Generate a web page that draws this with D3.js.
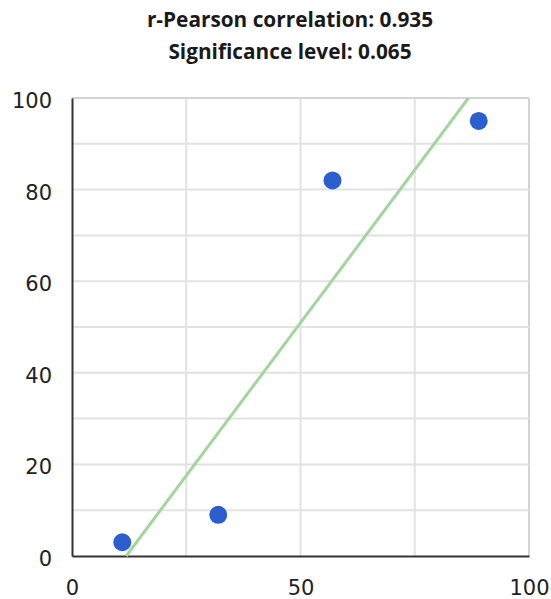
<!DOCTYPE html>
<html>
<head>
<meta charset="utf-8">
<script src="https://cdn.jsdelivr.net/npm/d3@7"></script>
<style>
  body { margin: 0; background: #fff; }
</style>
</head>
<body>
<div id="vis"></div>
<script>
var w = 551, h = 599; // size of the svg

// the four observations
var xValues = [11, 32, 57, 89];
var yValues = [3, 9, 82, 95];

// tick labels shown on the axes
var xTicks = [0, 50, 100];
var yTicks = [0, 20, 40, 60, 80, 100];
var xGrid = [25, 50, 75, 100];
var yGrid = [10, 20, 30, 40, 50, 60, 70, 80, 90, 100];

var titleLines = ["r-Pearson correlation: 0.935", "Significance level: 0.065"];

var points = xValues.map(function(x, i){
            return {x: x, y: yValues[i]};
        });

var xScale = d3.scaleLinear().domain([0, 100]).range([72, 529]);
var yScale = d3.scaleLinear().domain([0, 100]).range([556, 98]);

var svg = d3.select("#vis").append("svg")
            .attr("width", w)
            .attr("height", h);

// title, two lines
svg.selectAll("text.title")
    .data(titleLines)
    .enter()
    .append("text")
    .attr("class", "title")
    .attr("x", 290)
    .attr("y", function(d, i){ return 27 + i * 32; })
    .attr("text-anchor", "middle")
    .style("font-family", "'Open Sans', Lato, sans-serif")
    .style("font-weight", "bold")
    .style("font-size", "20.8px")
    .style("fill", "#1a1a1a")
    .text(function(d){ return d; });

// gridlines
svg.selectAll("line.vgrid")
    .data(xGrid)
    .enter()
    .append("line")
    .attr("x1", function(d){ return xScale(d); })
    .attr("x2", function(d){ return xScale(d); })
    .attr("y1", yScale(0))
    .attr("y2", yScale(100))
    .attr("stroke", function(d){ return d == 100 ? "#d4d4d4" : "#e2e2e2"; })
    .attr("stroke-width", 2);

svg.selectAll("line.hgrid")
    .data(yGrid)
    .enter()
    .append("line")
    .attr("x1", xScale(0))
    .attr("x2", xScale(100))
    .attr("y1", function(d){ return yScale(d); })
    .attr("y2", function(d){ return yScale(d); })
    .attr("stroke", function(d){ return d == 100 ? "#d4d4d4" : "#e2e2e2"; })
    .attr("stroke-width", 2);

// axis lines
var xAxis = d3.axisBottom(xScale).tickValues(xTicks).tickSize(0).tickPadding(24);
var yAxis = d3.axisLeft(yScale).tickValues(yTicks).tickSize(0).tickPadding(20);

svg.append("g")
    .attr("transform", "translate(0," + yScale(0) + ")")
    .call(xAxis)
    .call(function(g){
        g.select(".domain").attr("stroke", "#333").attr("stroke-width", 2);
        g.selectAll("text")
         .style("font-family", "'DejaVu Sans', sans-serif")
         .style("font-size", "21px")
         .style("fill", "#222");
    });

svg.append("g")
    .attr("transform", "translate(" + xScale(0) + ",0)")
    .call(yAxis)
    .call(function(g){
        g.select(".domain").attr("stroke", "#333").attr("stroke-width", 2);
        g.selectAll("text")
         .attr("dy", "0.45em")
         .style("font-family", "'DejaVu Sans', sans-serif")
         .style("font-size", "21px")
         .style("fill", "#222");
    });

// least squares trend line from the points
var mx = d3.mean(xValues), my = d3.mean(yValues);
var sxy = d3.sum(points, function(d){ return (d.x - mx) * (d.y - my); });
var sxx = d3.sum(points, function(d){ return (d.x - mx) * (d.x - mx); });
var slope = sxy / sxx, intercept = my - slope * mx;

var trend = [{x: (0 - intercept) / slope, y: 0}, {x: (100 - intercept) / slope, y: 100}];

svg.append("path")
    .datum(trend)
    .attr("d", d3.line()
        .x(function(d){ return xScale(d.x); })
        .y(function(d){ return yScale(d.y); }))
    .attr("stroke", "#a3d69e")
    .attr("stroke-width", 3)
    .attr("fill", "none");

// points
svg.selectAll("circle")
    .data(points)
    .enter()
    .append("circle")
    .attr("cx", function(d){ return xScale(d.x); })
    .attr("cy", function(d){ return yScale(d.y); })
    .attr("r", 9)
    .attr("fill", "#2b5fd0");
</script>
</body>
</html>
